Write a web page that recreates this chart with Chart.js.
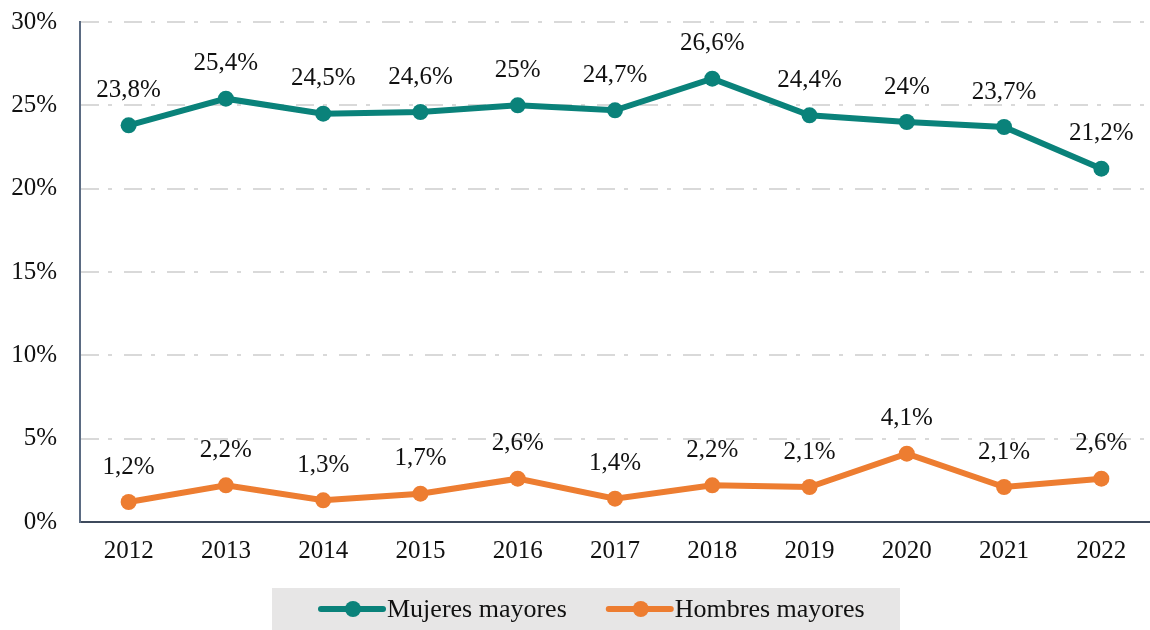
<!DOCTYPE html>
<html lang="es">
<head>
    <meta charset="UTF-8">
    <title>Mujeres y hombres mayores</title>
    <style>
        body {
            margin: 0;
            padding: 0;
            background-color: #ffffff;
            overflow: hidden;
        }
        #wrap {
            width: 1158px;
            height: 630px;
        }
    </style>
</head>
<body>
    <div id="wrap">
        <canvas id="myChart" width="1158" height="630"></canvas>
    </div>
    <script src="https://cdn.jsdelivr.net/npm/chart.js"></script>
    <script>
        const years = ['2012', '2013', '2014', '2015', '2016', '2017', '2018', '2019', '2020', '2021', '2022'];
        const mujeres = [23.8, 25.4, 24.5, 24.6, 25, 24.7, 26.6, 24.4, 24, 23.7, 21.2];
        const hombres = [1.2, 2.2, 1.3, 1.7, 2.6, 1.4, 2.2, 2.1, 4.1, 2.1, 2.6];
        const seriesNames = ['Mujeres mayores', 'Hombres mayores'];
        const yTicks = [0, 5, 10, 15, 20, 25, 30];

        const teal = '#0a827a';
        const orange = '#ed7d31';
        const serif = '"Liberation Serif", "DejaVu Serif", serif';

        function pct(v) {
            return String(v).replace('.', ',') + '%';
        }

        // value labels above each point
        const valueLabels = {
            id: 'valueLabels',
            afterDatasetsDraw(chart) {
                const ctx = chart.ctx;
                ctx.save();
                ctx.font = '25px ' + serif;
                ctx.fillStyle = '#111111';
                ctx.textAlign = 'center';
                ctx.textBaseline = 'middle';
                chart.data.datasets.forEach((ds, i) => {
                    chart.getDatasetMeta(i).data.forEach((pt, j) => {
                        ctx.fillText(pct(ds.data[j]), pt.x, pt.y - 35);
                    });
                });
                ctx.restore();
            }
        };

        // legend in a grey box under the axis
        const boxLegend = {
            id: 'boxLegend',
            afterDraw(chart) {
                const ctx = chart.ctx;
                ctx.save();
                ctx.fillStyle = '#e7e6e6';
                ctx.fillRect(272, 588, 628, 42);
                ctx.font = '26px ' + serif;
                ctx.textBaseline = 'middle';
                ctx.textAlign = 'left';
                const y = 609;
                let x = 321;
                chart.data.datasets.forEach(ds => {
                    ctx.strokeStyle = ds.borderColor;
                    ctx.fillStyle = ds.borderColor;
                    ctx.lineWidth = 6;
                    ctx.lineCap = 'round';
                    ctx.beginPath();
                    ctx.moveTo(x, y);
                    ctx.lineTo(x + 62, y);
                    ctx.stroke();
                    ctx.beginPath();
                    ctx.arc(x + 32, y, 8, 0, Math.PI * 2);
                    ctx.fill();
                    ctx.fillStyle = '#111111';
                    ctx.fillText(ds.label, x + 66, y + 1);
                    x += 66 + ctx.measureText(ds.label).width + 42;
                });
                ctx.restore();
            }
        };

        const ctx = document.getElementById('myChart').getContext('2d');
        new Chart(ctx, {
            type: 'line',
            data: {
                labels: years,
                datasets: [{
                    label: seriesNames[0],
                    data: mujeres,
                    borderColor: teal,
                    backgroundColor: teal,
                    borderWidth: 6,
                    pointRadius: 8,
                    pointBorderWidth: 0,
                    fill: false,
                    tension: 0
                }, {
                    label: seriesNames[1],
                    data: hombres,
                    borderColor: orange,
                    backgroundColor: orange,
                    borderWidth: 6,
                    pointRadius: 8,
                    pointBorderWidth: 0,
                    fill: false,
                    tension: 0
                }]
            },
            options: {
                responsive: false,
                animation: false,
                layout: {
                    padding: { top: 22, right: 0, bottom: 0, left: 0 }
                },
                plugins: {
                    legend: { display: false },
                    tooltip: { enabled: false }
                },
                scales: {
                    x: {
                        offset: true,
                        grid: { display: false, drawTicks: false },
                        border: { color: '#3e4a5c', width: 2 },
                        ticks: {
                            color: '#111111',
                            padding: 14,
                            font: { family: serif, size: 25 }
                        },
                        afterFit(scale) {
                            scale.height = 108;
                            scale.paddingLeft = 0;
                            scale.paddingRight = 0;
                        }
                    },
                    y: {
                        min: 0,
                        max: 30,
                        afterBuildTicks(scale) {
                            scale.ticks = yTicks.map(v => ({ value: v }));
                        },
                        grid: {
                            color: '#d9d9d9',
                            lineWidth: 2,
                            drawTicks: false
                        },
                        border: { color: '#5b6b82', width: 2, dash: [18, 9, 4, 12] },
                        ticks: {
                            color: '#111111',
                            padding: 23,
                            font: { family: serif, size: 25 },
                            callback: v => v + '%'
                        },
                        afterFit(scale) {
                            scale.width = 80;
                            scale.paddingTop = 0;
                            scale.paddingBottom = 0;
                        }
                    }
                }
            },
            plugins: [valueLabels, boxLegend]
        });
    </script>
</body>
</html>
